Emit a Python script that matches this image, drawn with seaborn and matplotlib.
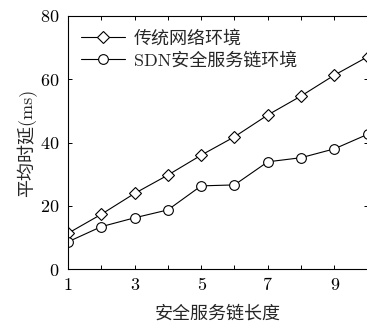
import numpy as np
import pandas as pd
import matplotlib
matplotlib.use("Agg")
import matplotlib.pyplot as plt
import seaborn as sns

# data
chain_len = [1, 2, 3, 4, 5, 6, 7, 8, 9, 10]
traditional = [11.3, 17.3, 23.9, 29.7, 36.0, 41.8, 48.7, 54.7, 61.3, 67.1]
sdn_chain = [8.6, 13.4, 16.2, 18.7, 26.3, 26.6, 33.9, 35.2, 38.0, 42.6]
series_names = ["传统网络环境", "SDN安全服务链环境"]
x_ticks = [1, 3, 5, 7, 9]
y_ticks = [0, 20, 40, 60, 80]

sns.set_theme(style="ticks")
plt.rcParams["font.family"] = ["cmr10", "Noto Sans CJK SC"]
plt.rcParams["axes.formatter.use_mathtext"] = True
plt.rcParams["mathtext.fontset"] = "cm"

fig = plt.figure(figsize=(3.67, 3.25), dpi=100)
ax = fig.add_axes([0.185, 0.172, 0.817, 0.779])

df = pd.DataFrame({"x": chain_len, "trad": traditional, "sdn": sdn_chain})
sns.lineplot(data=df, x="x", y="trad", ax=ax, color="black", lw=0.8,
             marker="D", markersize=6.5, mfc="white", mec="black", mew=0.8,
             label=series_names[0])
sns.lineplot(data=df, x="x", y="sdn", ax=ax, color="black", lw=0.8,
             marker="o", markersize=7, mfc="white", mec="black", mew=0.8,
             label=series_names[1])

ax.set_xlim(1, 10)
ax.set_ylim(0, 80)
ax.set_xticks(chain_len)
ax.set_xticklabels([str(v) if v in x_ticks else "" for v in chain_len])
ax.set_yticks(y_ticks)
ax.tick_params(direction="in", top=True, right=True, length=3, width=0.7,
               labelsize=13, colors="black", pad=6)
for s in ax.spines.values():
    s.set_linewidth(0.8)
    s.set_color("black")

ax.set_xlabel("安全服务链长度", fontsize=13, labelpad=9)
ax.set_ylabel("平均时延(ms)", fontsize=13, labelpad=2)

leg = ax.legend(loc="upper left", frameon=False, fontsize=13,
                handlelength=2.4, borderaxespad=0.45, labelspacing=0.3,
                handletextpad=0.5, borderpad=0.3)

fig.savefig("out.png", dpi=100)
